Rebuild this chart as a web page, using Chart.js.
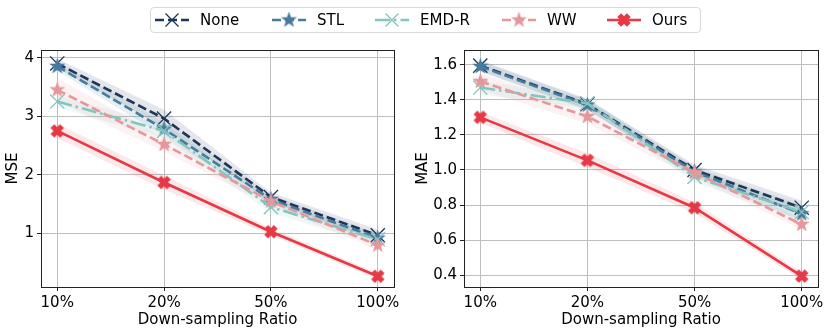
<!DOCTYPE html>
<html>
<head>
<meta charset="utf-8">
<script src="https://cdn.jsdelivr.net/npm/chart.js@4"></script>
<style>
  body { margin: 0; background: #fff; font-family: "DejaVu Sans", sans-serif; }
  #wrap { position: relative; width: 831px; height: 333px; }
  #c1 { position: absolute; left: 0; top: 0; }
  #c2 { position: absolute; left: 410px; top: 0; }
  #legend { position: absolute; left: 150px; top: 7px; width: 549px; height: 24px;
            border: 1px solid #d9d9d9; border-radius: 4px; background: #fff; z-index: 2; }
  .item { position: absolute; top: 0; height: 24px; display: flex; align-items: center;
          font-size: 15px; color: #000; }
  .item canvas { margin-right: 11px; }
</style>
</head>
<body>
<div id="wrap">
  <div id="legend"></div>
  <canvas id="c1" width="410" height="333"></canvas>
  <canvas id="c2" width="421" height="333"></canvas>
</div>
<script>
// categories
const ratios = ['10%', '20%', '50%', '100%'];
const methods = ['None', 'STL', 'EMD-R', 'WW', 'Ours'];

// MSE
const mseNone = [3.90, 2.96, 1.62, 0.97];
const mseSTL  = [3.85, 2.78, 1.58, 0.92];
const mseEMD  = [3.25, 2.75, 1.45, 0.90];
const mseWW   = [3.45, 2.52, 1.55, 0.80];
const mseOurs = [2.75, 1.87, 1.03, 0.27];
// MSE spread (shaded band half-width)
const mseNoneStd = [0.08, 0.15, 0.08, 0.10];
const mseSTLStd  = [0.08, 0.12, 0.08, 0.08];
const mseEMDStd  = [0.10, 0.12, 0.10, 0.10];
const mseWWStd   = [0.20, 0.12, 0.08, 0.08];
const mseOursStd = [0.12, 0.12, 0.06, 0.05];

// MAE
const maeNone = [1.595, 1.375, 1.00, 0.785];
const maeSTL  = [1.59, 1.37, 0.99, 0.75];
const maeEMD  = [1.47, 1.38, 0.96, 0.76];
const maeWW   = [1.505, 1.305, 0.985, 0.69];
const maeOurs = [1.30, 1.055, 0.785, 0.395];
const maeNoneStd = [0.03, 0.03, 0.03, 0.04];
const maeSTLStd  = [0.03, 0.03, 0.03, 0.04];
const maeEMDStd  = [0.04, 0.03, 0.03, 0.05];
const maeWWStd   = [0.05, 0.04, 0.03, 0.03];
const maeOursStd = [0.03, 0.04, 0.03, 0.02];

// tick labels
const mseTicks = [1, 2, 3, 4];
const maeTicks = [0.4, 0.6, 0.8, 1.0, 1.2, 1.4, 1.6];

const colors = ['#1d3557', '#457b9d', '#83c5be', '#e5989b', '#e63946'];
const dashes = [[9, 4], [9, 4], [15, 4, 2.5, 4], [9, 4], []];

function rgba(hex, a) {
    const n = parseInt(hex.slice(1), 16);
    return `rgba(${n >> 16},${(n >> 8) & 255},${n & 255},${a})`;
}

// marker images
function starImg(color, size) {
    const c = document.createElement('canvas');
    c.width = size; c.height = size;
    const g = c.getContext('2d');
    const cx = size / 2, cy = size / 2, R = size / 2, r = R * 0.4;
    g.beginPath();
    for (let i = 0; i < 10; i++) {
        const rad = (i % 2 ? r : R);
        const a = -Math.PI / 2 + i * Math.PI / 5;
        g.lineTo(cx + rad * Math.cos(a), cy + rad * Math.sin(a));
    }
    g.closePath();
    g.fillStyle = color;
    g.fill();
    return c;
}
function bigXImg(color, size) {
    const c = document.createElement('canvas');
    c.width = size; c.height = size;
    const g = c.getContext('2d');
    g.strokeStyle = color;
    g.lineWidth = size * 0.34;
    g.lineCap = 'butt';
    const p = size * 0.2;
    g.beginPath();
    g.moveTo(p, p); g.lineTo(size - p, size - p);
    g.moveTo(size - p, p); g.lineTo(p, size - p);
    g.stroke();
    return c;
}
function thinX(g, x, y, s, color) {
    g.strokeStyle = color;
    g.lineWidth = 1.3;
    g.beginPath();
    g.moveTo(x - s, y - s); g.lineTo(x + s, y + s);
    g.moveTo(x + s, y - s); g.lineTo(x - s, y + s);
    g.stroke();
}

const markers = [
    'crossRot',
    starImg(colors[1], 17),
    'crossRot',
    starImg(colors[3], 17),
    bigXImg(colors[4], 16)
];

// legend
const legendLeft = [4, 121, 224, 351, 456];
const legendEl = document.getElementById('legend');
methods.forEach((m, i) => {
    const item = document.createElement('div');
    item.className = 'item';
    item.style.left = legendLeft[i] + 'px';
    const cv = document.createElement('canvas');
    cv.width = 34; cv.height = 20;
    const g = cv.getContext('2d');
    g.strokeStyle = colors[i];
    g.lineWidth = 2.5;
    g.setLineDash(dashes[i]);
    g.beginPath(); g.moveTo(0, 10); g.lineTo(34, 10); g.stroke();
    g.setLineDash([]);
    if (typeof markers[i] === 'string') thinX(g, 17, 10, 6.5, colors[i]);
    else g.drawImage(markers[i], 17 - markers[i].width / 2, 10 - markers[i].height / 2);
    item.appendChild(cv);
    const t = document.createElement('span');
    t.textContent = m;
    item.appendChild(t);
    legendEl.appendChild(item);
});

function pts(arr) { return arr.map((v, i) => ({ x: i, y: v })); }

function buildDatasets(series, stds) {
    const ds = [];
    series.forEach((s, i) => {
        ds.push({
            data: pts(s.map((v, k) => v - stds[i][k])),
            borderWidth: 0, pointRadius: 0, fill: false, order: 20 + i
        });
        ds.push({
            data: pts(s.map((v, k) => v + stds[i][k])),
            borderWidth: 0, pointRadius: 0, fill: '-1',
            backgroundColor: rgba(colors[i], 0.12), order: 20 + i
        });
    });
    series.forEach((s, i) => {
        ds.push({
            label: methods[i],
            data: pts(s),
            borderColor: colors[i],
            backgroundColor: colors[i],
            borderWidth: 2.6,
            borderDash: dashes[i],
            pointStyle: markers[i],
            pointRadius: typeof markers[i] === 'string' ? 10 : 8,
            pointBorderWidth: 1.3,
            pointBorderColor: colors[i],
            fill: false,
            tension: 0,
            order: 10 - i
        });
    });
    return ds;
}

const framePlugin = {
    id: 'frame',
    afterDatasetsDraw(chart) {
        const a = chart.chartArea, g = chart.ctx;
        g.save();
        g.strokeStyle = '#222';
        g.lineWidth = 1;
        g.strokeRect(Math.round(a.left) + 0.5, Math.round(a.top) + 0.5,
                     Math.round(a.right - a.left), Math.round(a.bottom - a.top));
        g.restore();
    }
};

function makeChart(id, series, stds, yTicks, yMin, yMax, yTitle, yWidth, padRight, fmt) {
    return new Chart(document.getElementById(id), {
        type: 'line',
        data: { datasets: buildDatasets(series, stds) },
        plugins: [framePlugin],
        options: {
            responsive: false,
            animation: false,
            layout: { padding: { top: 50, right: padRight, left: 0, bottom: 0 } },
            plugins: { legend: { display: false }, tooltip: { enabled: false } },
            scales: {
                x: {
                    type: 'linear',
                    min: -0.152, max: 3.152,
                    afterBuildTicks: s => { s.ticks = ratios.map((r, i) => ({ value: i })); },
                    afterFit: s => { s.height = 46; },
                    ticks: {
                        callback: v => ratios[v],
                        font: { family: 'DejaVu Sans', size: 15 },
                        color: '#000', padding: 3, maxRotation: 0
                    },
                    grid: { color: '#bdbdbd', tickColor: '#222', tickLength: 4 },
                    border: { display: false },
                    title: {
                        display: true, text: 'Down-sampling Ratio',
                        font: { family: 'DejaVu Sans', size: 15 }, color: '#000',
                        padding: { top: 0, bottom: 4 }
                    }
                },
                y: {
                    min: yMin, max: yMax,
                    afterBuildTicks: s => { s.ticks = yTicks.map(v => ({ value: v })); },
                    afterFit: s => { s.width = yWidth; },
                    ticks: {
                        callback: fmt,
                        font: { family: 'DejaVu Sans', size: 15 },
                        color: '#000', padding: 3
                    },
                    grid: { color: '#bdbdbd', tickColor: '#222', tickLength: 4 },
                    border: { display: false },
                    title: {
                        display: true, text: yTitle,
                        font: { family: 'DejaVu Sans', size: 15 }, color: '#000',
                        padding: { top: 4, bottom: 0 }
                    }
                }
            }
        }
    });
}

makeChart('c1',
    [mseNone, mseSTL, mseEMD, mseWW, mseOurs],
    [mseNoneStd, mseSTLStd, mseEMDStd, mseWWStd, mseOursStd],
    mseTicks, 0.087, 4.13, 'MSE', 41, 16, v => String(v));

makeChart('c2',
    [maeNone, maeSTL, maeEMD, maeWW, maeOurs],
    [maeNoneStd, maeSTLStd, maeEMDStd, maeWWStd, maeOursStd],
    maeTicks, 0.333, 1.684, 'MAE', 54, 13, v => v.toFixed(1));
</script>
</body>
</html>
